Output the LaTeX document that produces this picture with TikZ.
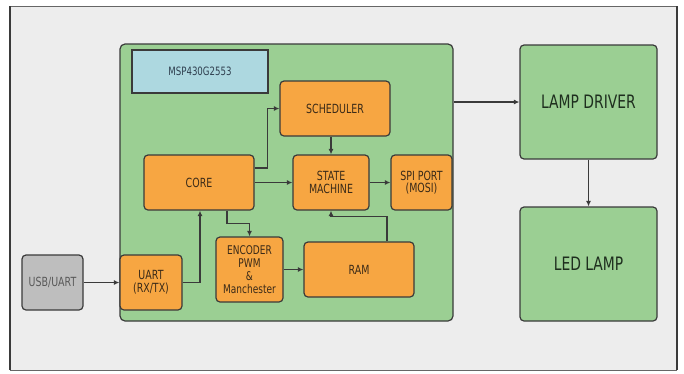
\documentclass[tikz,border=0pt]{standalone}
\usepackage{fontspec}
\setmainfont{DejaVu Sans}[FakeStretch=0.75]
\usetikzlibrary{arrows.meta}
\definecolor{bgc}{HTML}{EDEDED}
\definecolor{grn}{HTML}{9BCF93}
\definecolor{org}{HTML}{F7A642}
\definecolor{lbl}{HTML}{ADD8E0}
\definecolor{gry}{HTML}{BEBEBE}
\definecolor{edge}{HTML}{3A3A3A}
\definecolor{otxt}{HTML}{3A2A18}
\definecolor{gtxt}{HTML}{1E2E1E}
\definecolor{mtxt}{HTML}{2F3F4F}
\tikzset{
  box/.style={draw=edge, line width=1.2pt, rounded corners=4pt, inner sep=0pt, align=center},
  obox/.style={box, fill=org, text=otxt, font=\fontsize{12.6}{12.6}\selectfont},
  gbox/.style={box, fill=grn, text=gtxt, font=\fontsize{18.5}{20}\selectfont},
  arr/.style={draw=edge, line width=1.1pt, -{Latex[length=5.5pt,width=5pt]}},
}
\begin{document}
\begin{tikzpicture}[x=1pt,y=-1pt]
\useasboundingbox (0,0) rectangle (684,373);
\fill[white] (0,0) rectangle (684,373);
\fill[bgc] (10,6) rectangle (677,370);
\draw[gray!80!black, line width=0.8pt] (10,6) -- (677,6);
\draw[gray!80!black, line width=0.8pt] (10,370) -- (677,370);
\draw[edge, line width=2pt] (10,6) -- (10,370);
\draw[edge, line width=2pt] (677,6) -- (677,370);

\node[box, fill=grn, minimum width=333pt, minimum height=277pt, rounded corners=5pt] (mcu) at (286.5,182.5) {};
\node[draw=edge, line width=1.5pt, fill=lbl, inner sep=0pt, minimum width=136pt, minimum height=43pt, text=mtxt, font=\fontsize{11.5}{12}\selectfont] (msp) at (200,71.5) {MSP430G2553};

\node[obox, minimum width=110pt, minimum height=55pt] (sched) at (335,108.5) {SCHEDULER};
\node[obox, minimum width=110pt, minimum height=55pt] (core) at (199,182.5) {CORE};
\node[obox, minimum width=76pt, minimum height=55pt] (state) at (331,182.5) {STATE\\MACHINE};
\node[obox, minimum width=61pt, minimum height=55pt] (spi) at (421.5,182.5) {SPI PORT\\(MOSI)};
\node[obox, minimum width=67pt, minimum height=65pt, font=\fontsize{12}{13}\selectfont] (enc) at (249.5,269.5) {ENCODER\\PWM\\\&\\Manchester};
\node[obox, minimum width=110pt, minimum height=55pt] (ram) at (359,269.5) {RAM};
\node[obox, minimum width=62pt, minimum height=55pt] (uart) at (151,282.5) {UART\\(RX/TX)};
\node[box, fill=gry, text=black!65, minimum width=61pt, minimum height=55pt, font=\fontsize{12.6}{12.6}\selectfont] (usb) at (52.5,282.5) {USB/UART};

\node[gbox, minimum width=137pt, minimum height=114pt] (lamp) at (588.5,102) {LAMP DRIVER};
\node[gbox, minimum width=137pt, minimum height=114pt] (led) at (588.5,264) {LED LAMP};

\draw[arr] (usb.east) -- (uart.west);
\draw[arr] (uart.east) -| ([xshift=1pt]core.south);
\draw[arr] ([yshift=14.5pt]core.east) -- ++(13,0) |- (sched.west);
\draw[arr] (core.east) -- (state.west);
\draw[arr] (state.east) -- (spi.west);
\draw[arr] (sched.south -| state.north) -- (state.north);
\draw[arr] ([xshift=28pt]core.south) -- ++(0,13) -| (enc.north);
\draw[arr] (enc.east) -- (ram.west);
\draw[arr] ([xshift=28pt]ram.north) -- ++(0,-25) -| (state.south);
\draw[arr] (mcu.east |- lamp.west) -- (lamp.west);
\draw[arr] (lamp.south) -- (led.north);
\end{tikzpicture}
\end{document}
